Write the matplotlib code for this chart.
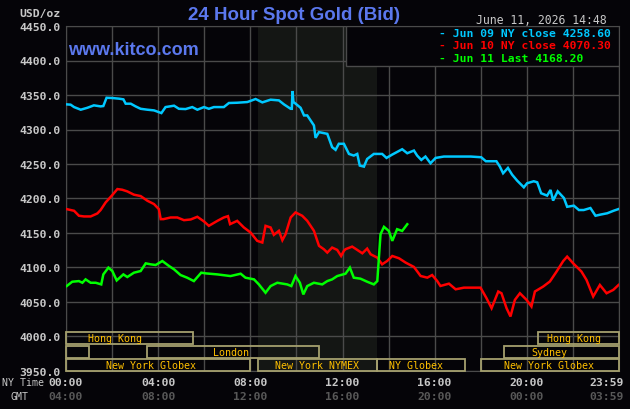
import matplotlib
matplotlib.use('Agg')
import matplotlib.pyplot as plt
from matplotlib.patches import Rectangle
import matplotlib.transforms as mtransforms

# colours
BG = '#050408'
GRID = '#4a4a4a'
SHADE = '#141614'
BLUE = '#5b78ee'
LIGHT = '#c8c8c8'
DARK = '#585858'
BOX_EDGE = '#a5a06e'
BOX_TEXT = '#ffc000'
MONO = 'DejaVu Sans Mono'

# Jun 09 (cyan) - hours (NY time) / price
cyan_hours = [0.03, 0.20, 0.35, 0.64, 0.93, 1.21, 1.50, 1.62, 1.76, 2.01, 2.30, 2.49, 2.59,
              2.81, 3.02, 3.24, 3.53, 3.82, 4.14, 4.32, 4.69, 4.90, 5.19, 5.48, 5.70, 5.99,
              6.20, 6.42, 6.85, 7.07, 7.43, 7.87, 8.23, 8.52, 8.88, 9.24, 9.46, 9.75, 9.80,
              9.83, 9.87, 10.18, 10.33, 10.47, 10.76, 10.83, 10.98, 11.34, 11.55, 11.70, 11.84,
              12.06, 12.28, 12.49, 12.64, 12.75, 12.93, 13.07, 13.36, 13.72, 13.91, 14.16,
              14.59, 14.81, 15.10, 15.24, 15.42, 15.60, 15.82, 16.04, 16.40, 16.83, 17.56,
              18.02, 18.22, 18.68, 18.83, 18.97, 19.18, 19.36, 19.58, 19.87, 20.01, 20.30,
              20.45, 20.62, 20.88, 21.03, 21.14, 21.34, 21.61, 21.75, 22.04, 22.26, 22.47,
              22.76, 22.98, 23.20, 23.49, 23.77, 23.98]
cyan_prices = [4336.4, 4336.0, 4332.5, 4328.7, 4331.5, 4335.0, 4333.5, 4334.0, 4346.0, 4345.6,
               4344.7, 4343.7, 4337.4, 4337.4, 4333.5, 4330.0, 4328.7, 4327.7, 4323.8, 4332.5,
               4334.5, 4330.0, 4329.6, 4332.5, 4328.7, 4332.5, 4330.0, 4332.5, 4332.5, 4338.4,
               4338.8, 4339.8, 4344.2, 4339.3, 4343.2, 4342.2, 4336.4, 4330.0, 4330.0, 4355.8,
               4340.0, 4331.5, 4320.4, 4320.4, 4305.9, 4287.9, 4296.2, 4293.7, 4274.4, 4270.5,
               4279.3, 4279.3, 4264.6, 4262.2, 4264.6, 4247.7, 4246.2, 4257.3, 4264.6, 4264.6,
               4258.8, 4263.7, 4271.4, 4265.6, 4269.5, 4262.2, 4255.9, 4260.8, 4251.1, 4258.8,
               4260.8, 4260.8, 4260.8, 4259.8, 4254.0, 4254.0, 4246.2, 4236.6, 4244.3, 4234.6,
               4225.9, 4216.2, 4222.1, 4225.0, 4223.5, 4207.6, 4204.2, 4212.4, 4197.0, 4210.4,
               4200.7, 4188.0, 4189.6, 4183.3, 4183.3, 4186.2, 4175.0, 4176.7, 4178.6, 4182.3,
               4184.7]

# Jun 10 (red)
red_hours = [0.03, 0.35, 0.56, 0.78, 1.07, 1.36, 1.50, 1.72, 2.01, 2.23, 2.44, 2.66, 2.95,
             3.24, 3.53, 3.82, 4.03, 4.11, 4.23, 4.54, 4.83, 5.12, 5.41, 5.70, 5.99, 6.20,
             6.57, 6.85, 7.03, 7.12, 7.43, 7.72, 8.01, 8.30, 8.52, 8.66, 8.88, 9.02, 9.24,
             9.39, 9.53, 9.75, 9.96, 10.25, 10.47, 10.76, 10.98, 11.19, 11.34, 11.55, 11.77,
             11.94, 12.06, 12.13, 12.42, 12.64, 12.86, 13.07, 13.22, 13.51, 13.72, 13.94,
             14.16, 14.45, 14.74, 15.10, 15.39, 15.68, 15.89, 16.11, 16.25, 16.62, 16.91,
             17.27, 17.99, 18.25, 18.47, 18.76, 18.90, 19.12, 19.29, 19.48, 19.70, 19.99,
             20.20, 20.35, 20.71, 21.00, 21.29, 21.58, 21.75, 22.01, 22.37, 22.59, 22.88,
             23.17, 23.46, 23.75, 23.98]
red_prices = [4184.6, 4182.2, 4175.0, 4174.0, 4174.0, 4178.3, 4183.2, 4194.3, 4205.0, 4213.7,
              4212.7, 4210.3, 4205.5, 4203.5, 4196.8, 4191.9, 4184.6, 4170.1, 4170.1, 4172.5,
              4172.5, 4168.6, 4169.6, 4173.5, 4166.7, 4160.4, 4167.6, 4172.5, 4174.4, 4162.8,
              4167.6, 4158.0, 4150.7, 4138.6, 4136.2, 4160.4, 4158.0, 4147.3, 4153.2, 4139.6,
              4148.3, 4172.5, 4179.8, 4175.0, 4167.6, 4153.2, 4131.4, 4126.5, 4121.6, 4128.9,
              4125.5, 4116.7, 4124.1, 4126.5, 4130.3, 4125.5, 4120.6, 4127.4, 4119.2, 4114.3,
              4104.6, 4109.5, 4116.7, 4113.4, 4107.1, 4100.8, 4087.7, 4085.3, 4089.1, 4080.4,
              4073.2, 4076.6, 4068.4, 4070.8, 4070.8, 4055.5, 4041.0, 4065.2, 4062.7, 4041.0,
              4029.0, 4053.0, 4062.7, 4053.0, 4043.5, 4065.2, 4072.4, 4079.7, 4094.1, 4109.4,
              4115.8, 4106.1, 4094.1, 4082.0, 4058.0, 4074.7, 4062.7, 4067.5, 4074.7]

# Jun 11 (green, up to 14:48)
green_hours = [0.03, 0.27, 0.56, 0.71, 0.85, 1.07, 1.29, 1.53, 1.62, 1.84, 2.01, 2.20, 2.49,
               2.66, 2.95, 3.24, 3.46, 3.67, 3.89, 4.18, 4.47, 4.69, 4.97, 5.26, 5.55, 5.87,
               6.06, 6.57, 7.14, 7.58, 7.79, 8.16, 8.37, 8.66, 8.88, 9.17, 9.60, 9.78, 9.96,
               10.15, 10.30, 10.47, 10.76, 11.12, 11.34, 11.55, 11.77, 12.13, 12.32, 12.49,
               12.78, 13.07, 13.36, 13.51, 13.65, 13.80, 14.01, 14.16, 14.37, 14.59, 14.81]
green_prices = [4073.1, 4079.4, 4080.3, 4077.9, 4082.8, 4077.9, 4077.9, 4075.5, 4090.0, 4099.8,
                4094.9, 4081.3, 4090.0, 4086.2, 4092.5, 4094.9, 4106.0, 4104.6, 4103.6, 4109.4,
                4102.2, 4097.3, 4089.1, 4085.2, 4080.3, 4092.5, 4091.5, 4090.0, 4087.6, 4091.0,
                4085.2, 4082.8, 4075.5, 4063.4, 4073.1, 4077.9, 4075.5, 4073.1, 4087.6, 4077.9,
                4061.0, 4073.1, 4077.9, 4075.5, 4080.3, 4082.8, 4087.6, 4091.0, 4099.8, 4085.2,
                4083.8, 4079.4, 4075.5, 4080.3, 4148.2, 4158.9, 4153.0, 4138.6, 4155.5, 4153.0,
                4162.7]

legend_labels = ['- Jun 09 NY close 4258.60', '- Jun 10 NY close 4070.30', '- Jun 11 Last 4168.20']
series_colors = ['#00c8ff', '#ff0000', '#00ff00']

yticks = [3950, 4000, 4050, 4100, 4150, 4200, 4250, 4300, 4350, 4400, 4450]
ny_hours = [0, 4, 8, 12, 16, 20, 23.47]
ny_labels = ['00:00', '04:00', '08:00', '12:00', '16:00', '20:00', '23:59']
gmt_labels = ['04:00', '08:00', '12:00', '16:00', '20:00', '00:00', '03:59']

# trading sessions: (row, start, end, label, label centre)
sessions = [
    (0, 0.0, 5.5, 'Hong Kong', 2.13),
    (0, 20.5, 24.0, 'Hong Kong', 22.04),
    (1, 0.0, 1.0, '', 0),
    (1, 3.5, 11.0, 'London', 7.16),
    (1, 19.0, 24.0, 'Sydney', 20.98),
    (2, 0.0, 8.0, 'New York Globex', 3.67),
    (2, 8.33, 13.5, 'New York NYMEX', 10.89),
    (2, 13.5, 17.33, 'NY Globex', 15.18),
    (2, 18.0, 24.0, 'New York Globex', 20.95),
]
row_span = {0: (0.078, 0.113), 1: (0.038, 0.072), 2: (0.0, 0.035)}

W, H = 630, 410


def fx(x):
    return x / W


def fy(y):
    return 1 - y / H


fig = plt.figure(figsize=(6.3, 4.1), dpi=100, facecolor=BG)
ax = fig.add_axes([66 / W, 38 / H, 553 / W, 345 / H])
ax.set_facecolor(BG)
ax.set_xlim(0, 24)
ax.set_ylim(3950, 4450)

# NYMEX pit hours shading
ax.axvspan(8 + 20 / 60, 13.5, color=SHADE, zorder=0, lw=0)

ax.set_xticks(range(0, 25, 2))
ax.set_xticklabels([])
ax.set_yticks(yticks)
ax.set_yticklabels([f'{v:.1f}' for v in yticks], family=MONO, weight='bold',
                   fontsize=8.2, color=LIGHT)
ax.tick_params(length=0, pad=3.6)
ax.grid(True, color=GRID, lw=1, zorder=1)
ax.set_axisbelow(True)
for sp in ax.spines.values():
    sp.set_color(GRID)

for hrs, prs, c in zip([cyan_hours, red_hours, green_hours],
                       [cyan_prices, red_prices, green_prices], series_colors):
    ax.plot(hrs, prs, color=c, lw=1.8, zorder=4, solid_joinstyle='miter')

# session boxes
blend = mtransforms.blended_transform_factory(ax.transData, ax.transAxes)
for row, s, e, lab, cx in sessions:
    y0, y1 = row_span[row]
    ax.add_patch(Rectangle((s, y0), e - s, y1 - y0, transform=blend, fill=False,
                           edgecolor=BOX_EDGE, lw=1.3, zorder=5, clip_on=False))
    if lab:
        ax.text(cx, (y0 + y1) / 2, lab, transform=blend, ha='center', va='center',
                family=MONO, fontsize=7.2, color=BOX_TEXT, zorder=6)

# legend box
ax.add_patch(Rectangle((0.506, 0.885), 0.494, 0.115, transform=ax.transAxes,
                       facecolor=BG, edgecolor=GRID, lw=1, zorder=7))
for lab, c, y in zip(legend_labels, series_colors, [34.3, 46.3, 59.5]):
    fig.text(fx(439), fy(y), lab, ha='left', va='center', family=MONO, weight='bold',
             fontsize=8.2, color=c, zorder=8)

# titles / header texts
fig.text(fx(294.5), fy(15), '24 Hour Spot Gold (Bid)', ha='center', va='center',
         family='Liberation Sans', weight='bold', fontsize=13.5, color=BLUE)
fig.text(fx(68), fy(55), 'www.kitco.com', ha='left', va='baseline',
         family='Liberation Sans', weight='bold', fontsize=13, color=BLUE, zorder=8)
fig.text(fx(61), fy(13.5), 'USD/oz', ha='right', va='center', family=MONO,
         weight='bold', fontsize=8.2, color=LIGHT)
fig.text(fx(476), fy(20), 'June 11, 2026 14:48', ha='left', va='center', family=MONO,
         fontsize=8.3, color=LIGHT)

# x axis labels (NY time and GMT)
fig.text(fx(2), fy(383), 'NY Time', ha='left', va='center', family=MONO,
         fontsize=7.1, color=LIGHT)
fig.text(fx(10.5), fy(397), 'GMT', ha='left', va='center', family=MONO,
         fontsize=7.1, color=LIGHT)
for h, ny, gmt in zip(ny_hours, ny_labels, gmt_labels):
    ax.text(h, -0.032, ny, transform=blend, ha='center', va='center', family=MONO,
            weight='bold', fontsize=8.2, color=LIGHT, clip_on=False)
    ax.text(h, -0.073, gmt, transform=blend, ha='center', va='center', family=MONO,
            weight='bold', fontsize=8.2, color=DARK, clip_on=False)

fig.savefig('out.png', dpi=100, facecolor=BG)
